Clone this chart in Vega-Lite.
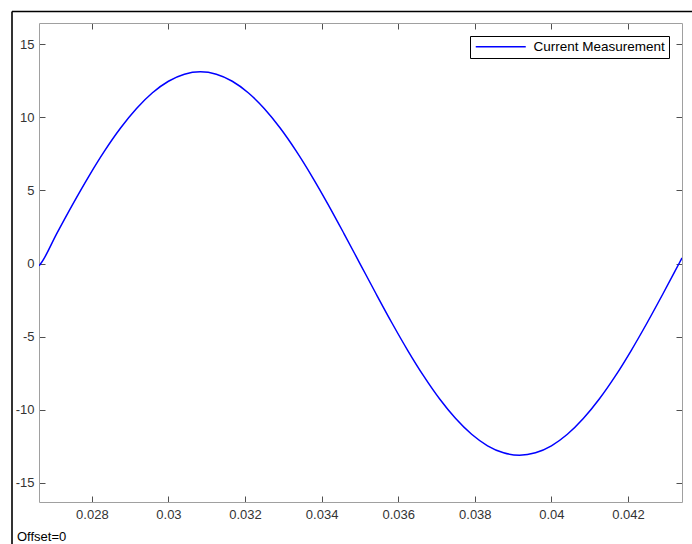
{
  "$schema": "https://vega.github.io/schema/vega-lite/v6.json",
  "width": 643,
  "height": 479,
  "autosize": "none",
  "padding": {"left": 39, "top": 23, "right": 10, "bottom": 42},
  "background": "white",
  "config": {
    "view": {"stroke": null},
    "font": "Liberation Sans",
    "axis": {
      "domainColor": "#a0a0a0",
      "domainWidth": 1,
      "tickColor": "#505050",
      "tickSize": -6,
      "labelPadding": 11,
      "labelFont": "Liberation Sans",
      "labelFontSize": 13,
      "labelColor": "#333333",
      "grid": false,
      "title": null,
      "labelFlush": false
    }
  },
  "datasets": {
    "wave": [
      {"t": 0.02662, "v": -0.15, "s": "Current Measurement"},
      {"t": 0.026667, "v": 0, "s": "Current Measurement"},
      {"t": 0.027083, "v": 2.049, "s": "Current Measurement"},
      {"t": 0.0275, "v": 4.048, "s": "Current Measurement"},
      {"t": 0.027917, "v": 5.947, "s": "Current Measurement"},
      {"t": 0.028333, "v": 7.7, "s": "Current Measurement"},
      {"t": 0.02875, "v": 9.263, "s": "Current Measurement"},
      {"t": 0.029167, "v": 10.598, "s": "Current Measurement"},
      {"t": 0.029583, "v": 11.672, "s": "Current Measurement"},
      {"t": 0.03, "v": 12.459, "s": "Current Measurement"},
      {"t": 0.030417, "v": 12.939, "s": "Current Measurement"},
      {"t": 0.030833, "v": 13.1, "s": "Current Measurement"},
      {"t": 0.03125, "v": 12.939, "s": "Current Measurement"},
      {"t": 0.031667, "v": 12.459, "s": "Current Measurement"},
      {"t": 0.032083, "v": 11.672, "s": "Current Measurement"},
      {"t": 0.0325, "v": 10.598, "s": "Current Measurement"},
      {"t": 0.032917, "v": 9.263, "s": "Current Measurement"},
      {"t": 0.033333, "v": 7.7, "s": "Current Measurement"},
      {"t": 0.03375, "v": 5.947, "s": "Current Measurement"},
      {"t": 0.034167, "v": 4.048, "s": "Current Measurement"},
      {"t": 0.034583, "v": 2.049, "s": "Current Measurement"},
      {"t": 0.035, "v": 0, "s": "Current Measurement"},
      {"t": 0.035417, "v": -2.049, "s": "Current Measurement"},
      {"t": 0.035833, "v": -4.048, "s": "Current Measurement"},
      {"t": 0.03625, "v": -5.947, "s": "Current Measurement"},
      {"t": 0.036667, "v": -7.7, "s": "Current Measurement"},
      {"t": 0.037083, "v": -9.263, "s": "Current Measurement"},
      {"t": 0.0375, "v": -10.598, "s": "Current Measurement"},
      {"t": 0.037917, "v": -11.672, "s": "Current Measurement"},
      {"t": 0.038333, "v": -12.459, "s": "Current Measurement"},
      {"t": 0.03875, "v": -12.939, "s": "Current Measurement"},
      {"t": 0.039167, "v": -13.1, "s": "Current Measurement"},
      {"t": 0.039583, "v": -12.939, "s": "Current Measurement"},
      {"t": 0.04, "v": -12.459, "s": "Current Measurement"},
      {"t": 0.040417, "v": -11.672, "s": "Current Measurement"},
      {"t": 0.040833, "v": -10.598, "s": "Current Measurement"},
      {"t": 0.04125, "v": -9.263, "s": "Current Measurement"},
      {"t": 0.041667, "v": -7.7, "s": "Current Measurement"},
      {"t": 0.042083, "v": -5.947, "s": "Current Measurement"},
      {"t": 0.0425, "v": -4.048, "s": "Current Measurement"},
      {"t": 0.042917, "v": -2.049, "s": "Current Measurement"},
      {"t": 0.043333, "v": 0, "s": "Current Measurement"},
      {"t": 0.04341, "v": 0.38, "s": "Current Measurement"}
    ],
    "note": [{"label": "Offset=0"}]
  },
  "layer": [
    {
      "data": {"name": "wave"},
      "mark": {"type": "line", "strokeWidth": 1.5, "interpolate": "monotone", "clip": true},
      "encoding": {
        "x": {
          "field": "t", "type": "quantitative",
          "scale": {"domain": [0.02662, 0.04341], "nice": false, "zero": false},
          "axis": {"orient": "bottom", "values": [0.028, 0.03, 0.032, 0.034, 0.036, 0.038, 0.04, 0.042], "format": "~g", "labelPadding": 12}
        },
        "y": {
          "field": "v", "type": "quantitative",
          "scale": {"domain": [-16.3, 16.44], "nice": false, "zero": false},
          "axis": {"orient": "left", "values": [-15, -10, -5, 0, 5, 10, 15], "labelExpr": "datum.value < 0 ? '-' + abs(datum.value) : '' + datum.value"}
        },
        "color": {
          "field": "s", "type": "nominal",
          "scale": {"range": ["#0000ff"]},
          "legend": {
            "orient": "top-right",
            "offset": 13,
            "title": null,
            "symbolType": "M-1,0H9",
            "symbolSize": 100,
            "symbolStrokeWidth": 1.6,
            "strokeColor": "black",
            "fillColor": "white",
            "padding": 4,
            "labelFontSize": 13.5,
            "labelFont": "Liberation Sans",
            "labelColor": "black",
            "labelOffset": 46,
            "cornerRadius": 0
          }
        }
      }
    },
    {
      "data": {"name": "wave"},
      "mark": {"type": "line", "opacity": 0},
      "encoding": {
        "x": {
          "field": "t", "type": "quantitative",
          "scale": {"domain": [0.02662, 0.04341], "nice": false, "zero": false},
          "axis": {"orient": "top", "labels": false, "values": [0.028, 0.03, 0.032, 0.034, 0.036, 0.038, 0.04, 0.042]}
        },
        "y": {
          "field": "v", "type": "quantitative",
          "scale": {"domain": [-16.3, 16.44], "nice": false, "zero": false},
          "axis": {"orient": "right", "labels": false, "values": [-15, -10, -5, 0, 5, 10, 15]}
        }
      }
    },
    {
      "data": {"name": "note"},
      "mark": {"type": "rule", "color": "black", "strokeWidth": 1.6, "clip": false},
      "encoding": {
        "x": {"datum": 0.025915, "type": "quantitative", "axis": null},
        "y": {"datum": 17.23, "type": "quantitative", "axis": null},
        "y2": {"datum": -25}
      }
    },
    {
      "data": {"name": "note"},
      "mark": {"type": "rule", "color": "black", "strokeWidth": 1.6, "clip": false},
      "encoding": {
        "x": {"datum": 0.025915, "type": "quantitative", "axis": null},
        "x2": {"datum": 0.05},
        "y": {"datum": 17.23, "type": "quantitative", "axis": null}
      }
    },
    {
      "data": {"name": "note"},
      "mark": {"type": "text", "align": "left", "baseline": "middle", "fontSize": 13, "font": "Liberation Sans", "color": "black", "clip": false},
      "encoding": {
        "x": {"datum": 0.026045, "type": "quantitative", "axis": null},
        "y": {"datum": -18.69, "type": "quantitative", "axis": null},
        "text": {"field": "label"}
      }
    }
  ],
  "resolve": {"axis": {"x": "independent", "y": "independent"}}
}
